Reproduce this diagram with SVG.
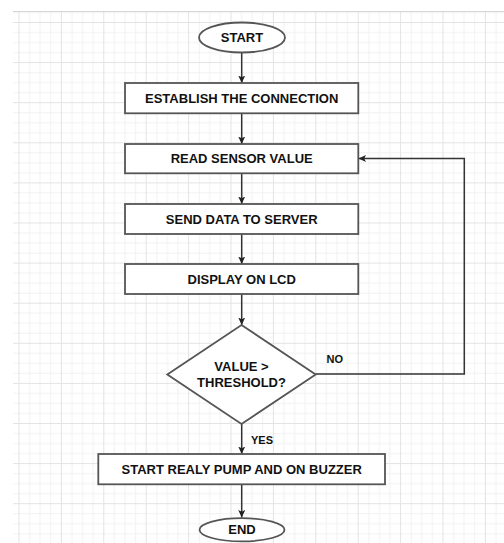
<svg xmlns="http://www.w3.org/2000/svg" width="504" height="543" viewBox="0 0 504 543">
  <defs>
    <pattern id="grid" patternUnits="userSpaceOnUse" x="18.5" y="22" width="42.4" height="40.1">
      <g stroke="#f1f1f1" stroke-width="1">
        <line x1="11.1" y1="0" x2="11.1" y2="40.1"/>
        <line x1="21.7" y1="0" x2="21.7" y2="40.1"/>
        <line x1="32.3" y1="0" x2="32.3" y2="40.1"/>
        <line x1="0" y1="10.5" x2="42.4" y2="10.5"/>
        <line x1="0" y1="20.55" x2="42.4" y2="20.55"/>
        <line x1="0" y1="30.6" x2="42.4" y2="30.6"/>
      </g>
      <g stroke="#e3e3e3" stroke-width="1">
        <line x1="0.5" y1="0" x2="0.5" y2="40.1"/>
        <line x1="0" y1="0.5" x2="42.4" y2="0.5"/>
      </g>
    </pattern>
    <marker id="arrow" markerUnits="userSpaceOnUse" markerWidth="9" markerHeight="8" refX="7.5" refY="3.5" orient="auto">
      <path d="M0,0 L7.5,3.5 L0,7 L1.8,3.5 z" fill="#222"/>
    </marker>
  </defs>
  <style>
    .node { fill: #ffffff; stroke: #555555; stroke-width: 1.8; }
    .label { font-family: "Liberation Sans", Arial, sans-serif; font-weight: bold; font-size: 13px; fill: #111111; text-anchor: middle; }
    .small { font-family: "Liberation Sans", Arial, sans-serif; font-weight: bold; font-size: 11px; fill: #111111; }
    .edge { fill: none; stroke: #333333; stroke-width: 1.5; marker-end: url(#arrow); }
  </style>

  <rect x="0" y="0" width="504" height="543" fill="#ffffff"/>
  <rect x="13" y="11" width="491" height="532" fill="url(#grid)"/>
  <line x1="13" y1="11.5" x2="504" y2="11.5" stroke="#d6d6d6" stroke-width="1"/>

  <g id="connectors">
    <line class="edge" x1="241.7" y1="52.5" x2="241.7" y2="83"/>
    <line class="edge" x1="241.7" y1="113.5" x2="241.7" y2="144"/>
    <line class="edge" x1="241.7" y1="173.5" x2="241.7" y2="204"/>
    <line class="edge" x1="241.7" y1="234" x2="241.7" y2="264"/>
    <line class="edge" x1="241.7" y1="294" x2="241.7" y2="325"/>
    <line class="edge" x1="241.7" y1="424" x2="241.7" y2="454"/>
    <line class="edge" x1="241.7" y1="484.5" x2="241.7" y2="517.5"/>
    <polyline class="edge" points="315.7,374 464.3,374 464.3,158.5 358.5,158.5"/>
    <text class="small" x="326.5" y="362.5">NO</text>
    <text class="small" x="251" y="443.5">YES</text>
  </g>

  <g id="start">
    <ellipse class="node" cx="242" cy="37.5" rx="43" ry="15"/>
    <text class="label" x="242" y="42.3">START</text>
  </g>
  <g id="establish">
    <rect class="node" x="125" y="83" width="233.3" height="30.3"/>
    <text class="label" x="241.7" y="102.7">ESTABLISH THE CONNECTION</text>
  </g>
  <g id="read">
    <rect class="node" x="125" y="144" width="233.3" height="29.3"/>
    <text class="label" x="241.7" y="163.3">READ SENSOR VALUE</text>
  </g>
  <g id="send">
    <rect class="node" x="125" y="204" width="233.3" height="30"/>
    <text class="label" x="241.7" y="223.7">SEND DATA TO SERVER</text>
  </g>
  <g id="display">
    <rect class="node" x="125" y="264" width="233.3" height="30"/>
    <text class="label" x="241.7" y="283.7">DISPLAY ON LCD</text>
  </g>
  <g id="decision">
    <polygon class="node" points="241.5,325 315.7,374.5 241.5,424 167.3,374.5"/>
    <text class="label" x="241.5" y="370.7">VALUE &gt;</text>
    <text class="label" x="241.5" y="386.7">THRESHOLD?</text>
  </g>
  <g id="pump">
    <rect class="node" x="98.3" y="454" width="286.7" height="30.3"/>
    <text class="label" x="241.7" y="473.7">START REALY PUMP AND ON BUZZER</text>
  </g>
  <g id="end">
    <ellipse class="node" cx="242" cy="529.8" rx="42.5" ry="11.6"/>
    <text class="label" x="242" y="533.6">END</text>
  </g>
</svg>
